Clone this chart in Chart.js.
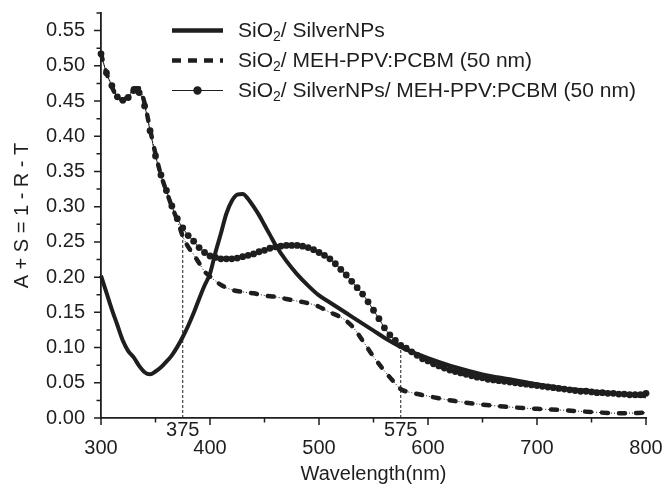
<!DOCTYPE html>
<html>
<head>
<meta charset="utf-8">
<script src="https://cdn.jsdelivr.net/npm/chart.js@4.4.1/dist/chart.umd.min.js"></script>
<style>
  html, body { margin: 0; padding: 0; background: #fff; }
</style>
</head>
<body>
<canvas id="absChart" width="669" height="486"></canvas>
<script>
// SiO2 / SilverNPs (solid curve)
const silverWl = [300, 305, 310, 315, 320, 325, 330, 335, 340, 345, 350, 355, 360, 365, 370, 375, 380, 385, 390, 395,
  400, 405, 410, 415, 420, 425, 430, 435, 440, 445, 450, 455, 460, 470, 480, 490, 500, 510, 520, 530, 540, 550, 560,
  575, 590, 600, 625, 650, 675, 700, 725, 750, 775, 800];
const silverAbs = [0.202, 0.178, 0.154, 0.132, 0.110, 0.095, 0.086, 0.074, 0.065, 0.062, 0.066, 0.072, 0.080, 0.089,
  0.101, 0.115, 0.131, 0.149, 0.169, 0.188, 0.205, 0.235, 0.262, 0.290, 0.308, 0.317, 0.318, 0.311, 0.300, 0.288,
  0.274, 0.260, 0.246, 0.223, 0.204, 0.188, 0.174, 0.164, 0.154, 0.144, 0.134, 0.124, 0.114, 0.101, 0.091, 0.085,
  0.072, 0.062, 0.055, 0.048, 0.042, 0.038, 0.034, 0.031];

// SiO2 / MEH-PPV:PCBM (dashed curve)
const polyWl = [300, 305, 310, 315, 320, 325, 330, 335, 340, 345, 350, 355, 360, 365, 370, 375, 380, 385, 390, 395,
  400, 410, 420, 430, 440, 450, 460, 470, 480, 490, 500, 510, 520, 530, 540, 550, 560, 570, 575, 585, 600, 625, 650,
  675, 700, 725, 750, 775, 800];
const polyAbs = [0.517, 0.490, 0.470, 0.456, 0.452, 0.457, 0.468, 0.468, 0.447, 0.410, 0.375, 0.345, 0.322, 0.300,
  0.281, 0.258, 0.243, 0.232, 0.220, 0.208, 0.201, 0.189, 0.182, 0.179, 0.177, 0.174, 0.172, 0.169, 0.166, 0.163,
  0.158, 0.150, 0.143, 0.131, 0.110, 0.087, 0.067, 0.049, 0.041, 0.036, 0.031, 0.024, 0.019, 0.0155, 0.013, 0.011,
  0.0085, 0.0068, 0.0075];

// SiO2 / SilverNPs / MEH-PPV:PCBM (line + dots), sampled every 5 nm from 300 nm
const hybridAbs = [0.517, 0.490, 0.472, 0.456, 0.451, 0.455, 0.465, 0.462, 0.443, 0.408,
  0.372, 0.345, 0.323, 0.301, 0.283, 0.270, 0.259, 0.251, 0.242, 0.235,
  0.230, 0.228, 0.226, 0.226, 0.226, 0.227, 0.229, 0.231, 0.233, 0.236,
  0.238, 0.241, 0.243, 0.244, 0.245, 0.245, 0.245, 0.244, 0.242, 0.239,
  0.235, 0.231, 0.226, 0.219, 0.211, 0.203, 0.194, 0.185, 0.176, 0.165,
  0.153, 0.141, 0.128, 0.118, 0.110, 0.103, 0.099, 0.094, 0.089, 0.084,
  0.081, 0.077, 0.074, 0.071, 0.068, 0.066, 0.064, 0.062, 0.060, 0.058,
  0.057, 0.055, 0.054, 0.053, 0.052, 0.051, 0.050, 0.049, 0.048, 0.047,
  0.046, 0.045, 0.044, 0.043, 0.042, 0.041, 0.040, 0.039, 0.038, 0.038,
  0.037, 0.036, 0.036, 0.035, 0.035, 0.034, 0.034, 0.033, 0.033, 0.033, 0.035];
const hybridWl = hybridAbs.map((_, i) => 300 + 5 * i);

// marked wavelengths with a dashed drop line
const markWl = [375, 575];
const markTop = [0.268, 0.102];

// labelled ticks
const xTickValues = [300, 400, 500, 600, 700, 800];
const yTickValues = [0, 0.05, 0.10, 0.15, 0.20, 0.25, 0.30, 0.35, 0.40, 0.45, 0.50, 0.55];

const seriesNames = ['SilverNPs', 'MEH-PPV:PCBM (50 nm)', 'SilverNPs/ MEH-PPV:PCBM (50 nm)'];

const ink = '#1e1e1e';
const fontFamily = '"Liberation Sans", Arial, sans-serif';
const toPoints = (xs, ys) => xs.map((x, i) => ({ x: x, y: ys[i] }));

const dropLines = markWl.map((w, i) => ({
  data: [{ x: w, y: 0 }, { x: w, y: markTop[i] }],
  borderColor: ink, borderWidth: 1, borderDash: [3, 2], pointRadius: 0, clip: false
}));

// minor/major tick marks, the extra 375 / 575 labels and the legend
const decorations = {
  id: 'decorations',
  afterDraw(chart) {
    const ctx = chart.ctx;
    const xs = chart.scales.x, ys = chart.scales.y;
    const area = chart.chartArea;
    ctx.save();
    ctx.strokeStyle = ink;
    ctx.lineWidth = 1.5;
    ctx.beginPath();
    for (let v = 300; v <= 800; v += 50) {
      const px = xs.getPixelForValue(v);
      const len = v % 100 === 0 ? 7 : 4.5;
      ctx.moveTo(px, area.bottom);
      ctx.lineTo(px, area.bottom + len);
    }
    for (let k = 0; k <= 23; k++) {
      const py = ys.getPixelForValue(k * 0.025);
      const len = k % 2 === 0 ? 7 : 4.5;
      ctx.moveTo(area.left, py);
      ctx.lineTo(area.left - len, py);
    }
    ctx.stroke();

    ctx.fillStyle = ink;
    ctx.font = '20px ' + fontFamily;
    ctx.textAlign = 'center';
    ctx.textBaseline = 'middle';
    markWl.forEach(w => ctx.fillText(String(w), xs.getPixelForValue(w), area.bottom + 12));

    // legend
    const rowY = [31.5, 61.5, 91.5];
    const x0 = 172, x1 = 223, tx = 238;
    seriesNames.forEach((name, i) => {
      const y = rowY[i];
      ctx.beginPath();
      ctx.setLineDash(i === 1 ? [9, 7] : []);
      ctx.lineWidth = i === 2 ? 1 : 4.5;
      ctx.moveTo(x0, y - 1);
      ctx.lineTo(x1, y - 1);
      ctx.stroke();
      ctx.setLineDash([]);
      if (i === 2) {
        ctx.beginPath();
        ctx.arc((x0 + x1) / 2, y - 1, 4.2, 0, Math.PI * 2);
        ctx.fill();
      }
      ctx.textAlign = 'left';
      ctx.font = '21px ' + fontFamily;
      ctx.fillText('SiO', tx, y);
      let cx = tx + ctx.measureText('SiO').width;
      ctx.font = '14px ' + fontFamily;
      ctx.fillText('2', cx, y + 6);
      cx += ctx.measureText('2').width;
      ctx.font = '21px ' + fontFamily;
      ctx.fillText('/ ' + name, cx, y);
    });
    ctx.restore();
  }
};

new Chart(document.getElementById('absChart'), {
  type: 'line',
  data: {
    datasets: [
      {
        data: toPoints(silverWl, silverAbs),
        borderColor: ink, borderWidth: 4, pointRadius: 0,
        cubicInterpolationMode: 'monotone', clip: false
      },
      {
        data: toPoints(polyWl, polyAbs),
        borderColor: ink, borderWidth: 1, borderDash: [1, 2], pointRadius: 0,
        cubicInterpolationMode: 'monotone', clip: false
      },
      {
        data: toPoints(polyWl, polyAbs),
        borderColor: ink, borderWidth: 4.5, borderDash: [6, 11], borderCapStyle: 'round', pointRadius: 0,
        cubicInterpolationMode: 'monotone', clip: false
      },
      {
        data: toPoints(hybridWl, hybridAbs),
        borderColor: ink, borderWidth: 1, pointRadius: 3.4, pointBorderWidth: 0,
        pointBackgroundColor: ink, cubicInterpolationMode: 'monotone', clip: false
      },
      ...dropLines
    ]
  },
  options: {
    responsive: false,
    animation: false,
    events: [],
    layout: { padding: { top: 13, right: 23, left: 0, bottom: 0 } },
    plugins: { legend: { display: false }, tooltip: { enabled: false } },
    scales: {
      x: {
        type: 'linear', min: 300, max: 800,
        afterBuildTicks: s => { s.ticks = xTickValues.map(v => ({ value: v })); },
        afterFit: s => { s.height = 68; s.paddingLeft = 0; s.paddingRight = 0; },
        grid: { display: false, drawTicks: false },
        border: { display: true, color: ink, width: 1.8 },
        ticks: {
          autoSkip: false, maxRotation: 0, padding: 18,
          color: ink, font: { family: fontFamily, size: 20 }
        },
        title: {
          display: true, text: 'Wavelength(nm)', color: ink,
          font: { family: fontFamily, size: 20 }, padding: { top: 0, bottom: 0 }
        }
      },
      y: {
        min: 0, max: 0.575,
        afterBuildTicks: s => { s.ticks = yTickValues.map(v => ({ value: v })); },
        afterFit: s => { s.width = 101; s.paddingTop = 0; s.paddingBottom = 0; },
        grid: { display: false, drawTicks: false },
        border: { display: true, color: ink, width: 1.8 },
        ticks: {
          autoSkip: false, padding: 16, color: ink,
          font: { family: fontFamily, size: 20 },
          callback: v => Number(v).toFixed(2)
        },
        title: {
          display: true, text: 'A + S = 1 - R - T', color: ink,
          font: { family: fontFamily, size: 20 }, padding: { top: 10, bottom: 0 }
        }
      }
    }
  },
  plugins: [decorations]
});
</script>
</body>
</html>
